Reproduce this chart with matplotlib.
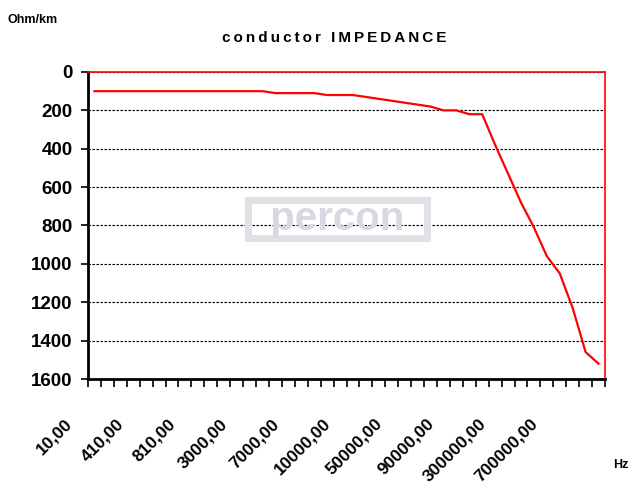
"""Conductor impedance vs frequency (Excel-style category chart)."""
import matplotlib

matplotlib.use("Agg")
import matplotlib.pyplot as plt
import matplotlib.transforms as mtransforms
import numpy as np

plt.rcParams["font.family"] = ["Liberation Sans", "DejaVu Sans"]

# frequency categories (Hz); every 4th one is labelled on the axis
freqs = ([10 + 100 * i for i in range(10)]
         + [1000 * i for i in range(1, 11)]
         + [10000 * i for i in range(1, 11)]
         + [100000 * i for i in range(1, 11)])
# impedance in Ohm/km, one value per category
impedance = [100] * 14 + [110] * 4 + [120] * 3 + [
    130, 140, 150, 160, 170, 180, 200, 200, 220, 220,
    380, 530, 680, 810, 960, 1050, 1230, 1460, 1520]
y_ticks = [0, 200, 400, 600, 800, 1000, 1200, 1400, 1600]
label_every = 4

W, H = 632, 490
fig = plt.figure(figsize=(W / 100, H / 100), dpi=100)
ax = fig.add_axes([88 / W, 1 - 379 / H, (605 - 88) / W, (379 - 72) / H])

x = np.arange(len(impedance))
ax.plot(x, impedance, color="#ff0000", lw=1.6, zorder=3)

ax.set_xlim(-0.5, len(freqs) - 0.5)
ax.set_ylim(1600, 0)
ax.set_yticks(y_ticks)
ax.set_yticklabels([str(v) for v in y_ticks], fontsize=13.5, fontweight="bold")
ax.yaxis.grid(True, color="black", linestyle=(0, (2.2, 1.4)), lw=0.8)
ax.set_axisbelow(True)
ax.tick_params(axis="y", length=5, width=1.2, pad=6, color="black")

# tick marks sit between the categories, labels are drawn by hand below
ax.set_xticks(np.arange(-0.5, len(freqs), 1))
ax.set_xticklabels([])
ax.tick_params(axis="x", length=6, width=1.2, color="black")

for side in ("top", "right"):
    ax.spines[side].set_color("#ff0000")
    ax.spines[side].set_linewidth(1.2)
for side in ("left", "bottom"):
    ax.spines[side].set_color("black")
    ax.spines[side].set_linewidth(2)

lab_tr = mtransforms.offset_copy(ax.get_xaxis_transform(), fig=fig,
                                 x=-30, y=-37, units="dots")
for i in range(0, len(freqs), label_every):
    txt = f"{freqs[i]:.2f}".replace(".", ",")
    ax.text(i, 0, txt, transform=lab_tr, rotation=45, rotation_mode="anchor",
            ha="right", va="top", fontsize=12.5, fontweight="bold")

# faint company watermark in the middle of the plot
ax.text(0.482, 0.52, "  percon  ", transform=ax.transAxes, ha="center",
        va="center", fontsize=29, fontweight="bold", color="#d6d9e1",
        bbox=dict(boxstyle="square,pad=0.0", fc="none", ec="#dfe1e7", lw=5),
        zorder=1)

thin = "\u2009"
title = "conductor IMPEDANCE"
fig.text(334 / W, 1 - 38 / H, thin.join(title), ha="center", va="center",
         fontsize=11, fontweight="bold")
fig.text(8 / W, 1 - 20 / H, "Ohm/km", ha="left", va="center",
         fontsize=9, fontweight="bold")
fig.text(628 / W, 1 - 465 / H, "Hz", ha="right", va="center",
         fontsize=9, fontweight="bold")

fig.savefig("out.png", dpi=100)
